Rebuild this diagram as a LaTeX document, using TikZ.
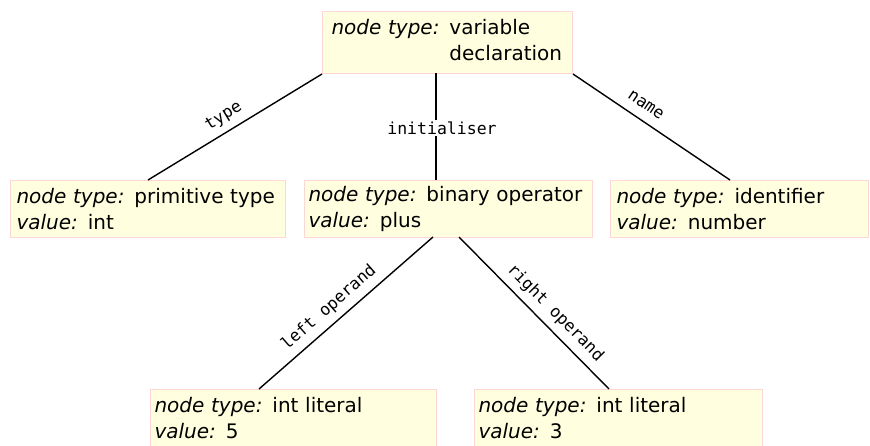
\documentclass[tikz,border=0pt]{standalone}
\usepackage{fontspec}
\setmainfont{DejaVu Sans}
\newfontfamily\labmono{DejaVu Sans Mono}
\definecolor{boxfill}{HTML}{FFFFE0}
\definecolor{boxline}{HTML}{FFD6D6}
\newcommand{\fld}[1]{{\itshape #1}}
\begin{document}
\begin{tikzpicture}[x=1pt,y=-1pt,
  astbox/.style={draw=boxline, line width=1pt, fill=boxfill, anchor=north west,
    inner xsep=5pt, inner ysep=0pt, align=left,
    font=\fontsize{20}{26}\selectfont},
  edge/.style={draw=black, line width=1.4pt},
  lab/.style={font=\fontsize{16.5}{18}\labmono, sloped, inner sep=0pt,
    text height=12pt, text depth=4pt, above=6pt}
]
\useasboundingbox (0,0) rectangle (870,445);

\node[astbox, minimum height=62pt, inner xsep=5pt, text width=240pt] (T) at (322,11)
  {\hspace*{4pt}\fld{node type:} \begin{tabular}[t]{@{}l@{}}variable\\declaration\end{tabular}};
\node[astbox, minimum height=57pt, inner xsep=6pt, text width=263pt] (P) at (10,180)
  {\fld{node type:} primitive type\\\fld{value:} int};
\node[astbox, minimum height=57pt, inner xsep=4pt, text width=280pt] (B) at (304,180)
  {\fld{node type:} binary operator\\\fld{value:} plus};
\node[astbox, minimum height=57pt, inner xsep=6pt, text width=246pt] (I) at (610,180)
  {\fld{node type:} identifier\\\fld{value:} number};
\node[astbox, minimum height=57pt, inner xsep=4pt, text width=278pt] (L) at (150,389)
  {\fld{node type:} int literal\\\fld{value:} 5};
\node[astbox, minimum height=57pt, inner xsep=4pt, text width=280pt] (R) at (474,389)
  {\fld{node type:} int literal\\\fld{value:} 3};

\coordinate (Ti) at (436,73);
\coordinate (Bi) at (436,180);
\coordinate (In) at (730,180);
\coordinate (Bl) at (433,237);
\coordinate (Br) at (459,237);
\coordinate (Lt) at (259,389);
\coordinate (Rt) at (609,389);

\path[edge] (T.south west) -- node[lab, pos=0.52] {type} (P.north);
\path[edge] (Ti) -- (Bi);
\node[font=\fontsize{16.5}{18}\labmono, fill=white, inner xsep=1pt, inner ysep=2pt] (initlab) at (442,128) {initialiser};
\path[edge] (T.south east) -- node[lab, pos=0.41] {name} (In);
\path[edge] (Bl) -- node[lab, pos=0.54] {left operand} (Lt);
\path[edge] (Br) -- node[lab, pos=0.57] {right operand} (Rt);
\end{tikzpicture}
\end{document}
